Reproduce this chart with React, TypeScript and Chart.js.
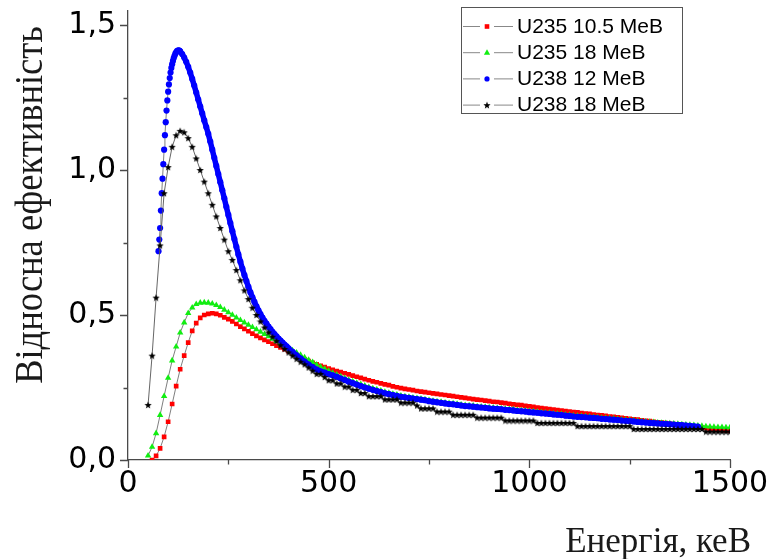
import React, { useEffect, useRef } from 'react';
import { Chart, registerables } from 'chart.js';
Chart.register(...registerables);

// ---------- data ----------
const ENERGY = [
  50, 60, 70, 80, 90, 100, 110, 120, 130, 140,
  150, 160, 170, 180, 190, 200, 210, 220, 230, 240,
  250, 260, 270, 280, 290, 300, 310, 320, 330, 340,
  350, 360, 370, 380, 390, 400, 410, 420, 430, 440,
  450, 460, 470, 480, 490, 500, 510, 520, 530, 540,
  550, 560, 570, 580, 590, 600, 610, 620, 630, 640,
  650, 660, 670, 680, 690, 700, 710, 720, 730, 740,
  750, 760, 770, 780, 790, 800, 810, 820, 830, 840,
  850, 860, 870, 880, 890, 900, 910, 920, 930, 940,
  950, 960, 970, 980, 990, 1000, 1010, 1020, 1030, 1040,
  1050, 1060, 1070, 1080, 1090, 1100, 1110, 1120, 1130, 1140,
  1150, 1160, 1170, 1180, 1190, 1200, 1210, 1220, 1230, 1240,
  1250, 1260, 1270, 1280, 1290, 1300, 1310, 1320, 1330, 1340,
  1350, 1360, 1370, 1380, 1390, 1400, 1410, 1420, 1430, 1440,
  1450, 1460, 1470, 1480, 1490, 1500,
];

const U235_105 = [
  null, 0.0, 0.014, 0.04, 0.08, 0.132, 0.193, 0.255, 0.313, 0.36,
  0.405, 0.445, 0.472, 0.49, 0.5, 0.504, 0.506, 0.504, 0.499, 0.492,
  0.486, 0.478, 0.469, 0.46, 0.452, 0.444, 0.436, 0.428, 0.421, 0.414,
  0.408, 0.401, 0.394, 0.388, 0.382, 0.375, 0.368, 0.361, 0.354, 0.347,
  0.341, 0.335, 0.33, 0.325, 0.32, 0.315, 0.311, 0.307, 0.303, 0.299,
  0.295, 0.291, 0.287, 0.283, 0.279, 0.275, 0.271, 0.268, 0.264, 0.261,
  0.258, 0.254, 0.251, 0.248, 0.245, 0.243, 0.241, 0.238, 0.236, 0.234,
  0.232, 0.23, 0.228, 0.226, 0.224, 0.222, 0.22, 0.218, 0.216, 0.214,
  0.212, 0.21, 0.208, 0.207, 0.205, 0.203, 0.201, 0.2, 0.198, 0.196,
  0.194, 0.192, 0.19, 0.189, 0.187, 0.185, 0.183, 0.181, 0.179, 0.177,
  0.176, 0.174, 0.172, 0.17, 0.169, 0.167, 0.165, 0.164, 0.162, 0.16,
  0.159, 0.157, 0.155, 0.154, 0.152, 0.15, 0.149, 0.147, 0.145, 0.144,
  0.142, 0.14, 0.139, 0.137, 0.135, 0.134, 0.132, 0.13, 0.129, 0.127,
  0.125, 0.124, 0.122, 0.12, 0.119, 0.117, 0.115, 0.113, 0.112, 0.11,
  0.108, 0.106, 0.105, 0.103, 0.101, 0.1,
];

const U235_18 = [
  0.015, 0.045, 0.092, 0.155, 0.22, 0.283, 0.343, 0.391, 0.439, 0.474,
  0.506, 0.525, 0.537, 0.542, 0.543, 0.542, 0.539, 0.534, 0.527, 0.518,
  0.509, 0.5, 0.491, 0.482, 0.474, 0.466, 0.458, 0.45, 0.442, 0.434,
  0.426, 0.418, 0.41, 0.402, 0.394, 0.386, 0.378, 0.37, 0.362, 0.354,
  0.345, 0.337, 0.329, 0.321, 0.314, 0.307, 0.3, 0.294, 0.288, 0.282,
  0.276, 0.271, 0.266, 0.261, 0.256, 0.251, 0.247, 0.243, 0.239, 0.235,
  0.231, 0.228, 0.225, 0.222, 0.219, 0.217, 0.215, 0.213, 0.211, 0.209,
  0.206, 0.204, 0.202, 0.2, 0.198, 0.196, 0.195, 0.193, 0.191, 0.189,
  0.188, 0.187, 0.185, 0.184, 0.183, 0.181, 0.18, 0.179, 0.178, 0.176,
  0.175, 0.174, 0.172, 0.171, 0.17, 0.168, 0.167, 0.166, 0.164, 0.163,
  0.162, 0.16, 0.159, 0.158, 0.156, 0.155, 0.153, 0.152, 0.151, 0.15,
  0.149, 0.148, 0.147, 0.145, 0.144, 0.143, 0.142, 0.141, 0.139, 0.138,
  0.137, 0.136, 0.134, 0.133, 0.132, 0.131, 0.13, 0.129, 0.128, 0.127,
  0.126, 0.125, 0.124, 0.123, 0.122, 0.121, 0.12, 0.118, 0.117, 0.116,
  0.115, 0.114, 0.113, 0.113, 0.112, 0.112,
];

const U238_18 = [
  0.19, 0.36, 0.56, 0.74, 0.92, 1.01, 1.08, 1.12, 1.135, 1.13,
  1.11, 1.08, 1.04, 1.0, 0.96, 0.92, 0.88, 0.84, 0.8, 0.76,
  0.72, 0.69, 0.655, 0.62, 0.585, 0.555, 0.525, 0.5, 0.478, 0.457,
  0.44, 0.425, 0.41, 0.396, 0.383, 0.371, 0.36, 0.349, 0.339, 0.33,
  0.319, 0.308, 0.297, 0.297, 0.286, 0.275, 0.275, 0.264, 0.264, 0.253,
  0.253, 0.242, 0.242, 0.231, 0.231, 0.22, 0.22, 0.22, 0.22, 0.209,
  0.209, 0.209, 0.209, 0.198, 0.198, 0.198, 0.198, 0.188, 0.178, 0.178,
  0.178, 0.178, 0.167, 0.167, 0.167, 0.167, 0.156, 0.156, 0.156, 0.156,
  0.156, 0.156, 0.146, 0.146, 0.146, 0.146, 0.146, 0.146, 0.146, 0.136,
  0.136, 0.136, 0.136, 0.136, 0.136, 0.136, 0.136, 0.128, 0.128, 0.128,
  0.128, 0.128, 0.128, 0.128, 0.128, 0.128, 0.128, 0.117, 0.117, 0.117,
  0.117, 0.117, 0.117, 0.117, 0.117, 0.117, 0.117, 0.117, 0.117, 0.117,
  0.117, 0.107, 0.107, 0.107, 0.107, 0.107, 0.107, 0.107, 0.107, 0.107,
  0.107, 0.107, 0.107, 0.107, 0.107, 0.107, 0.107, 0.107, 0.107, 0.098,
  0.098, 0.098, 0.098, 0.098, 0.098, 0.098,
];

const U238_12_E = [
  76, 78, 80, 82, 84, 86, 88, 90, 92, 94,
  96, 98, 100, 102, 104, 106, 108, 110, 112, 114,
  116, 118, 120, 122, 124, 126, 128, 130, 135, 140,
  145, 150, 155, 160, 165, 170, 175, 180, 185, 190,
  195, 200, 205, 210, 215, 220, 225, 230, 235, 240,
  245, 250, 255, 260, 265, 270, 275, 280, 285, 290,
  295, 300, 305, 310, 315, 320, 325, 330, 335, 340,
  345, 350, 355, 360, 365, 370, 375, 380, 385, 390,
  395, 400, 410, 420, 430, 440, 450, 460, 470, 480,
  490, 500, 510, 520, 530, 540, 550, 560, 570, 580,
  590, 600, 610, 620, 630, 640, 650, 660, 670, 680,
  690, 700, 710, 720, 730, 740, 750, 760, 770, 780,
  790, 800, 810, 820, 830, 840, 850, 860, 870, 880,
  890, 900, 910, 920, 930, 940, 950, 960, 970, 980,
  990, 1000, 1010, 1020, 1030, 1040, 1050, 1060, 1070, 1080,
  1090, 1100, 1110, 1120, 1130, 1140, 1150, 1160, 1170, 1180,
  1190, 1200, 1210, 1220, 1230, 1240, 1250, 1260, 1270, 1280,
  1290, 1300, 1310, 1320, 1330, 1340, 1350, 1360, 1370, 1380,
  1390, 1400, 1410, 1420,
];

const U238_12 = [
  0.72, 0.76, 0.8, 0.86, 0.92, 0.97, 1.02, 1.07, 1.12, 1.165,
  1.205, 1.24, 1.27, 1.295, 1.317, 1.336, 1.352, 1.365, 1.376, 1.386,
  1.394, 1.401, 1.406, 1.41, 1.412, 1.413, 1.412, 1.409, 1.4, 1.388,
  1.373, 1.356, 1.336, 1.314, 1.291, 1.267, 1.243, 1.219, 1.195, 1.171,
  1.148, 1.125, 1.098, 1.07, 1.042, 1.014, 0.986, 0.958, 0.93, 0.902,
  0.873, 0.845, 0.817, 0.789, 0.762, 0.735, 0.709, 0.684, 0.66, 0.638,
  0.617, 0.597, 0.578, 0.561, 0.545, 0.53, 0.516, 0.503, 0.491, 0.48,
  0.47, 0.46, 0.451, 0.442, 0.434, 0.426, 0.419, 0.412, 0.405, 0.398,
  0.392, 0.385, 0.373, 0.361, 0.35, 0.339, 0.329, 0.32, 0.312, 0.306,
  0.301, 0.296, 0.292, 0.287, 0.281, 0.276, 0.27, 0.265, 0.26, 0.255,
  0.25, 0.246, 0.242, 0.238, 0.234, 0.23, 0.227, 0.224, 0.221, 0.218,
  0.216, 0.214, 0.212, 0.21, 0.208, 0.206, 0.203, 0.201, 0.199, 0.197,
  0.195, 0.193, 0.192, 0.19, 0.188, 0.186, 0.185, 0.184, 0.182, 0.181,
  0.18, 0.178, 0.177, 0.176, 0.175, 0.173, 0.172, 0.171, 0.169, 0.168,
  0.167, 0.165, 0.164, 0.163, 0.161, 0.16, 0.159, 0.157, 0.156, 0.155,
  0.153, 0.152, 0.15, 0.149, 0.148, 0.147, 0.146, 0.145, 0.144, 0.142,
  0.141, 0.14, 0.139, 0.138, 0.136, 0.135, 0.134, 0.133, 0.131, 0.13,
  0.129, 0.128, 0.127, 0.126, 0.125, 0.124, 0.123, 0.122, 0.121, 0.12,
  0.119, 0.118, 0.116, 0.115,
];

const SERIES_LABELS = ['U235 10.5 MeB', 'U235 18 MeB', 'U238 12 MeB', 'U238 18 MeB'];
const SERIES_COLORS = ['#ff0000', '#11ee11', '#0000ff', '#000000'];
const X_TITLE = 'Енергія, кеВ';
const Y_TITLE = 'Відносна ефективність';
const X_MAJOR = [0, 500, 1000, 1500];
const X_MINOR = [250, 750, 1250];
const Y_MAJOR = [0, 0.5, 1, 1.5];
const Y_MINOR = [0.25, 0.75, 1.25];

// ---------- styling ----------
const AXIS_COLOR = '#4a4a4a';
const LINE_COLOR = '#707070';
const TICK_FONT = { family: '"DejaVu Sans"', size: 30 };

function toPoints(xs: number[], ys: (number | null)[]) {
  return xs.map((x, i) => ({ x, y: ys[i] }));
}

function makeStar(size: number, color: string) {
  const c = document.createElement('canvas');
  c.width = size;
  c.height = size;
  const g = c.getContext('2d')!;
  g.fillStyle = color;
  g.beginPath();
  const cx = size / 2, cy = size / 2 + 0.4, R = size / 2 - 0.2, r = R * 0.42;
  for (let i = 0; i < 10; i++) {
    const a = -Math.PI / 2 + (i * Math.PI) / 5;
    const rr = i % 2 ? r : R;
    g.lineTo(cx + rr * Math.cos(a), cy + rr * Math.sin(a));
  }
  g.closePath();
  g.fill();
  return c;
}

function drawMarker(ctx: CanvasRenderingContext2D, kind: string, x: number, y: number, color: string, star: HTMLCanvasElement) {
  ctx.fillStyle = color;
  if (kind === 'rect') {
    ctx.fillRect(x - 2.3, y - 2.3, 4.6, 4.6);
  } else if (kind === 'triangle') {
    ctx.beginPath();
    ctx.moveTo(x, y - 3.4);
    ctx.lineTo(x + 3.1, y + 2.0);
    ctx.lineTo(x - 3.1, y + 2.0);
    ctx.closePath();
    ctx.fill();
  } else if (kind === 'circle') {
    ctx.beginPath();
    ctx.arc(x, y, 2.6, 0, Math.PI * 2);
    ctx.fill();
  } else {
    ctx.drawImage(star, x - star.width / 2, y - star.height / 2);
  }
}

export default function App() {
  const ref = useRef<HTMLCanvasElement>(null);

  useEffect(() => {
    const canvas = ref.current!;
    const star = makeStar(8, '#000');
    const kinds = ['rect', 'triangle', 'circle', 'star'];
    const bluePeak = U238_12.indexOf(Math.max(...U238_12));

    const ticksPlugin = {
      id: 'axisTicks',
      afterDraw(chart: any) {
        const { ctx, scales } = chart;
        const xs = scales.x, ys = scales.y;
        ctx.save();
        ctx.strokeStyle = AXIS_COLOR;
        ctx.lineWidth = 1.3;
        ctx.beginPath();
        const left = xs.left, bottom = ys.bottom;
        for (const v of Y_MAJOR) { const p = Math.round(ys.getPixelForValue(v)) + 0.5; ctx.moveTo(left - 8, p); ctx.lineTo(left, p); }
        for (const v of Y_MINOR) { const p = Math.round(ys.getPixelForValue(v)) + 0.5; ctx.moveTo(left - 4.5, p); ctx.lineTo(left, p); }
        for (const v of X_MAJOR) { const p = Math.round(xs.getPixelForValue(v)) + 0.5; ctx.moveTo(p, bottom); ctx.lineTo(p, bottom + 8); }
        for (const v of X_MINOR) { const p = Math.round(xs.getPixelForValue(v)) + 0.5; ctx.moveTo(p, bottom); ctx.lineTo(p, bottom + 4.5); }
        ctx.stroke();
        ctx.restore();
      },
    };

    const titlesPlugin = {
      id: 'axisTitles',
      afterDraw(chart: any) {
        const { ctx } = chart;
        ctx.save();
        ctx.fillStyle = '#1a1a1a';
        ctx.font = '35px "Liberation Serif"';
        ctx.textAlign = 'right';
        ctx.textBaseline = 'alphabetic';
        ctx.fillText(X_TITLE, 751, 552);
        ctx.translate(42, 205);
        ctx.rotate(-Math.PI / 2);
        ctx.scale(1, 1.1);
        ctx.font = '36.5px "Liberation Serif"';
        ctx.textAlign = 'center';
        ctx.fillText(Y_TITLE, 0, 0);
        ctx.restore();
      },
    };

    const legendPlugin = {
      id: 'boxLegend',
      afterDraw(chart: any) {
        const { ctx } = chart;
        const bx = 461.5, by = 7.5, bw = 221, bh = 106;
        ctx.save();
        ctx.fillStyle = '#ffffff';
        ctx.fillRect(bx, by, bw, bh);
        ctx.strokeStyle = '#555';
        ctx.lineWidth = 1;
        ctx.strokeRect(bx, by, bw, bh);
        ctx.font = '21px "Liberation Sans"';
        ctx.textBaseline = 'middle';
        ctx.textAlign = 'left';
        SERIES_LABELS.forEach((label, i) => {
          const y = 26 + i * 26.2;
          ctx.strokeStyle = '#888';
          ctx.lineWidth = 1;
          ctx.beginPath();
          ctx.moveTo(463, y + 0.5); ctx.lineTo(480, y + 0.5);
          ctx.moveTo(494, y + 0.5); ctx.lineTo(513, y + 0.5);
          ctx.stroke();
          drawMarker(ctx, kinds[i], 487, y + 0.5, SERIES_COLORS[i], star);
          ctx.fillStyle = '#000';
          ctx.fillText(label, 517, y + 1);
        });
        ctx.restore();
      },
    };

    const base = {
      showLine: true,
      borderColor: LINE_COLOR,
      borderWidth: 0.9,
      pointBorderWidth: 0,
      tension: 0,
      fill: false,
    };

    const chart = new Chart(canvas, {
      type: 'line',
      data: {
        datasets: [
          { ...base, label: SERIES_LABELS[0], data: toPoints(ENERGY, U235_105), pointStyle: 'rect', pointRadius: 3.3,
            pointBackgroundColor: SERIES_COLORS[0], pointBorderColor: SERIES_COLORS[0], order: 3 },
          { ...base, label: SERIES_LABELS[1], data: toPoints(ENERGY, U235_18), pointStyle: 'triangle', pointRadius: 3.7,
            pointBackgroundColor: SERIES_COLORS[1], pointBorderColor: SERIES_COLORS[1], order: 2 },
          { ...base, label: SERIES_LABELS[2], data: toPoints(U238_12_E, U238_12), pointStyle: 'circle', pointRadius: 3.1,
            pointBackgroundColor: SERIES_COLORS[2], pointBorderColor: SERIES_COLORS[2], order: 1,
            segment: {
              borderColor: (c: any) => (c.p0DataIndex >= bluePeak ? SERIES_COLORS[2] : LINE_COLOR),
              borderWidth: (c: any) => (c.p0DataIndex >= bluePeak ? 5.5 : 0.9),
            } },
          { ...base, label: SERIES_LABELS[3], data: toPoints(ENERGY, U238_18), pointStyle: star, pointRadius: 4,
            pointBackgroundColor: SERIES_COLORS[3], pointBorderColor: SERIES_COLORS[3], borderColor: '#555', order: 0 },
        ] as any,
      },
      options: {
        responsive: false,
        animation: false,
        devicePixelRatio: 1,
        events: [],
        layout: { padding: { left: 0, right: 43, top: 10.5, bottom: 0 } },
        plugins: { legend: { display: false }, tooltip: { enabled: false }, title: { display: false } },
        scales: {
          x: {
            type: 'linear',
            position: 'bottom',
            min: 0,
            max: 1500,
            grid: { drawOnChartArea: false, drawTicks: false },
            border: { display: true, color: AXIS_COLOR, width: 1.3 },
            ticks: {
              stepSize: 500,
              includeBounds: false,
              autoSkip: false,
              maxRotation: 0,
              padding: 6,
              color: '#000',
              font: TICK_FONT,
              callback: (v: any) => String(v),
            },
            afterFit: (s: any) => { s.height = 99; s.paddingLeft = 0; s.paddingRight = 0; },
          },
          y: {
            type: 'linear',
            position: 'left',
            min: 0,
            max: 1.55,
            grid: { drawOnChartArea: false, drawTicks: false },
            border: { display: true, color: AXIS_COLOR, width: 1.3 },
            ticks: {
              stepSize: 0.5,
              includeBounds: false,
              padding: 12,
              color: '#000',
              font: TICK_FONT,
              callback: (v: any) => Number(v).toFixed(1).replace('.', ','),
            },
            afterFit: (s: any) => { s.width = 128; s.paddingTop = 0; s.paddingBottom = 0; },
          },
        },
      } as any,
      plugins: [ticksPlugin, titlesPlugin, legendPlugin],
    });

    return () => chart.destroy();
  }, []);

  return (
    <div style={{ position: 'fixed', left: 0, top: 0, width: 773, height: 559, background: '#fff' }}>
      <canvas ref={ref} width={773} height={559} style={{ display: 'block', width: 773, height: 559 }} />
    </div>
  );
}
